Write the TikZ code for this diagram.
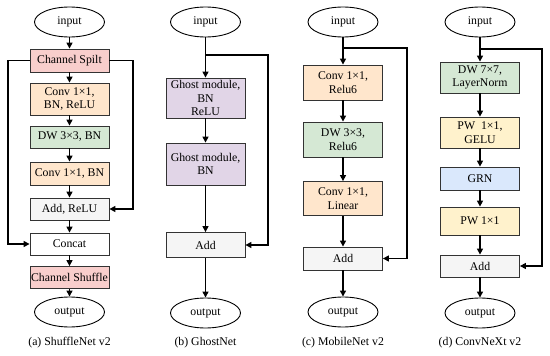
\documentclass[tikz,border=0pt]{standalone}
\usepackage{fontspec}
\setmainfont{Liberation Serif}
\usetikzlibrary{shapes.geometric,arrows.meta}
\definecolor{cpink}{HTML}{F8CECC}
\definecolor{corange}{HTML}{FFE6CC}
\definecolor{cgreen}{HTML}{D5E8D4}
\definecolor{cpurple}{HTML}{E1D5E7}
\definecolor{cblue}{HTML}{DAE8FC}
\definecolor{cyellow}{HTML}{FFF2CC}
\definecolor{cgray}{HTML}{F5F5F5}
\definecolor{cline}{HTML}{333333}
\tikzset{
  txt/.style={font=\fontsize{11.8}{13.5}\selectfont, align=center},
  blk/.style={txt, draw=cline, line width=0.8pt, rectangle, minimum width=79pt, inner sep=0pt},
  oval/.style={txt, draw=black, line width=0.9pt, ellipse, minimum width=70pt, minimum height=30pt, inner sep=0pt},
  arr/.style={-{Triangle[length=6pt,width=6pt]}, line width=1.4pt, black},
  captxt/.style={font=\fontsize{11.8}{13.5}\selectfont}
}
\begin{document}
\begin{tikzpicture}[x=1pt,y=-1pt]
\useasboundingbox (0,0) rectangle (550,356);
% ---------- (a) ShuffleNet v2
\node[oval] (ain) at (69.5,22) {input};
\node[blk, fill=cpink, minimum height=23pt] (acs) at (69.5,60.5) {Channel Spilt};
\node[blk, fill=corange, minimum height=32pt] (ac1) at (69.5,99) {Conv 1×1,\\BN, ReLU};
\node[blk, fill=cgreen, minimum height=22pt] (adw) at (69.5,137) {DW 3×3, BN};
\node[blk, fill=corange, minimum height=23pt] (ac2) at (69.5,173.5) {Conv 1×1, BN};
\node[blk, fill=cgray, minimum height=22pt] (aadd) at (69.5,209) {Add, ReLU};
\node[blk, fill=white, minimum height=22pt] (acat) at (69.5,244) {Concat};
\node[blk, fill=cpink, minimum height=22pt] (ash) at (69.5,277.5) {Channel Shuffle};
\node[oval] (aout) at (69.5,312) {output};
\node[captxt] (acap) at (69.5,343) {(a) ShuffleNet v2};
\draw[arr] (ain) -- (acs);
\draw[arr] (acs) -- (ac1);
\draw[arr] (ac1) -- (adw);
\draw[arr] (adw) -- (ac2);
\draw[arr] (ac2) -- (aadd);
\draw[arr] (aadd) -- (acat);
\draw[arr] (acat) -- (ash);
\draw[arr] (ash) -- (aout);
\coordinate (aL) at (8,60.5);
\coordinate (aR) at (133,60.5);
\draw[arr] (acs.west) -- (aL) |- (acat.west);
\draw[arr] (acs.east) -- (aR) |- (aadd.east);
% ---------- (b) GhostNet
\node[oval] (bin) at (205.5,22) {input};
\node[blk, fill=cpurple, minimum height=40pt] (bg1) at (205.5,98) {Ghost module,\\BN\\ReLU};
\node[blk, fill=cpurple, minimum height=42pt] (bg2) at (205.5,164) {Ghost module,\\BN};
\node[blk, fill=cgray, minimum height=25pt] (badd) at (205.5,245) {Add};
\node[oval] (bout) at (205.5,313) {output};
\node[captxt] (bcap) at (205.5,343) {(b) GhostNet};
\coordinate (bB) at (205.5,55);
\coordinate (bR) at (268,55);
\draw[arr] (bin) -- (bg1);
\draw[arr] (bg1) -- (bg2);
\draw[arr] (bg2) -- (badd);
\draw[arr] (badd) -- (bout);
\draw[arr] (bB) -- (bR) |- (badd.east);
% ---------- (c) MobileNet v2
\node[oval] (cin) at (343,22) {input};
\node[blk, fill=corange, minimum height=35pt] (cc1) at (343,82.5) {Conv 1×1,\\Relu6};
\node[blk, fill=cgreen, minimum height=35pt] (cdw) at (343,139.5) {DW 3×3,\\Relu6};
\node[blk, fill=corange, minimum height=34pt] (cc2) at (343,198.5) {Conv 1×1,\\Linear};
\node[blk, fill=cgray, minimum height=23pt] (cadd) at (343,258.5) {Add};
\node[oval] (cout) at (343,312) {output};
\node[captxt] (ccap) at (343,343) {(c) MobileNet v2};
\coordinate (cB) at (343,48);
\coordinate (cR) at (407,48);
\draw[arr] (cin) -- (cc1);
\draw[arr] (cc1) -- (cdw);
\draw[arr] (cdw) -- (cc2);
\draw[arr] (cc2) -- (cadd);
\draw[arr] (cadd) -- (cout);
\draw[arr] (cB) -- (cR) |- (cadd.east);
% ---------- (d) ConvNeXt v2
\node[oval] (din) at (480,22) {input};
\node[blk, fill=cgreen, minimum height=31pt] (ddw) at (480,77.5) {DW 7×7,\\LayerNorm};
\node[blk, fill=cyellow, minimum height=31pt] (dp1) at (480,132.5) {PW\ \ 1×1,\\GELU};
\node[blk, fill=cblue, minimum height=23pt] (dgrn) at (480,178.5) {GRN};
\node[blk, fill=cyellow, minimum height=28pt] (dp2) at (480,221) {PW 1×1};
\node[blk, fill=cgray, minimum height=22pt] (dadd) at (480,266) {Add};
\node[oval] (dout) at (480,313) {output};
\node[captxt] (dcap) at (480,343) {(d) ConvNeXt v2};
\coordinate (dB) at (480,49);
\coordinate (dR) at (542,49);
\draw[arr] (din) -- (ddw);
\draw[arr] (ddw) -- (dp1);
\draw[arr] (dp1) -- (dgrn);
\draw[arr] (dgrn) -- (dp2);
\draw[arr] (dp2) -- (dadd);
\draw[arr] (dadd) -- (dout);
\draw[arr] (dB) -- (dR) |- (dadd.east);
\end{tikzpicture}
\end{document}
